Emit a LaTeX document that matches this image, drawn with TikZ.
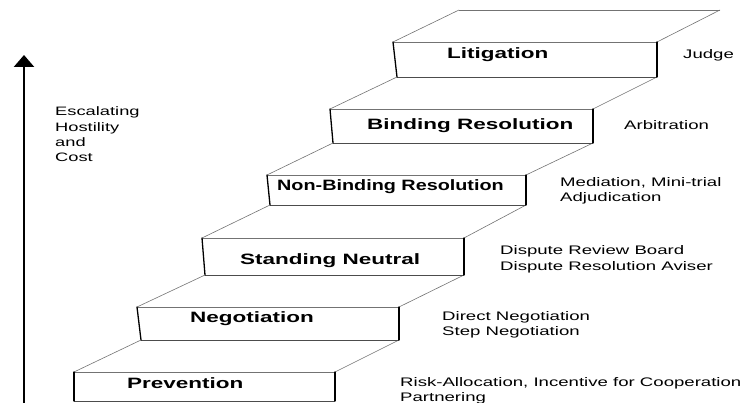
\documentclass[tikz,border=0pt]{standalone}
\usepackage{fontspec}
\usetikzlibrary{arrows.meta}
\newfontfamily\stepfont[FakeStretch=1.5]{Liberation Sans}
\newfontfamily\narrowstepfont[FakeStretch=1.32]{Liberation Sans}
\newfontfamily\notefont[FakeStretch=1.5]{Liberation Sans}
\begin{document}
\begin{tikzpicture}[x=1pt,y=-1pt,
  thinline/.style={draw=black!55,line width=0.6pt},
  bottomline/.style={draw=black!70,line width=0.8pt},
  sideline/.style={draw=black,line width=1.3pt,line cap=round},
  steplabel/.style={font=\stepfont\bfseries\fontsize{15}{18}\selectfont,inner sep=0pt,anchor=base west},
  note/.style={font=\notefont\fontsize{12.4}{15.7}\selectfont,inner sep=0pt,align=left,anchor=west},
  notebase/.style={font=\notefont\fontsize{12.4}{15.7}\selectfont,inner sep=0pt,anchor=base west},
]
\useasboundingbox (0,0) rectangle (745,403);
% step fronts
\coordinate (s0tl) at (74,372);  \coordinate (s0tr) at (335,372); \coordinate (s0br) at (335,401); \coordinate (s0bl) at (74,401);
\coordinate (s1tl) at (137,307); \coordinate (s1tr) at (399,307); \coordinate (s1br) at (399,340); \coordinate (s1bl) at (141,340);
\coordinate (s2tl) at (202,238); \coordinate (s2tr) at (464,238); \coordinate (s2br) at (464,275); \coordinate (s2bl) at (205,275);
\coordinate (s3tl) at (267,175); \coordinate (s3tr) at (526,175); \coordinate (s3br) at (526,205); \coordinate (s3bl) at (270,205);
\coordinate (s4tl) at (330,109); \coordinate (s4tr) at (593,109); \coordinate (s4br) at (593,143); \coordinate (s4bl) at (333,143);
\coordinate (s5tl) at (393,42);  \coordinate (s5tr) at (657,42);  \coordinate (s5br) at (657,77);  \coordinate (s5bl) at (397,77);
\coordinate (s6bl) at (459,10);  \coordinate (s6br) at (720,10);
% top faces
\foreach \i [evaluate=\i as \j using int(\i+1)] in {0,...,5}{
  \draw[thinline] (s\i tl) -- (s\j bl);
  \draw[thinline] (s\i tr) -- (s\j br);
  \draw[thinline] (s\i tl) -- (s\i tr);
  \draw[bottomline] (s\i bl) -- (s\i br);
  \draw[sideline] (s\i tl) -- (s\i bl);
  \draw[sideline] (s\i tr) -- (s\i br);
}
\draw[thinline] (s6bl) -- (s6br);
% step labels
\node[steplabel] (prev) at (127,389) {Prevention};
\node[steplabel] (nego) at (190,323) {Negotiation};
\node[steplabel] (stand) at (240,265) {Standing Neutral};
\node[steplabel,font=\narrowstepfont\bfseries\fontsize{15}{18}\selectfont] (nonbind) at (277,191) {Non-Binding Resolution};
\node[steplabel] (bind) at (367,130) {Binding Resolution};
\node[steplabel] (lit) at (447,59) {Litigation};
% notes
\node[notebase] (judge) at (683,59) {Judge};
\node[notebase] (arb) at (624,129.5) {Arbitration};
\node[note] (med) at (560,190.7) {Mediation, Mini-trial\\Adjudication};
\node[note] (drb) at (500,259) {Dispute Review Board\\Dispute Resolution Aviser};
\node[note] (dn) at (442,324.7) {Direct Negotiation\\Step Negotiation};
\node[note] (risk) at (400,390.7) {Risk-Allocation, Incentive for Cooperation\\Partnering};
\node[note,font=\notefont\fontsize{12.2}{15.3}\selectfont] (esc) at (55,134.5) {Escalating\\Hostility\\and\\Cost};
% arrow
\coordinate (abot) at (24,403);
\coordinate (atop) at (24,55);
\draw[line width=2.4pt,-{Triangle[width=20pt,length=12pt]}] (abot) -- (atop);
\end{tikzpicture}
\end{document}
